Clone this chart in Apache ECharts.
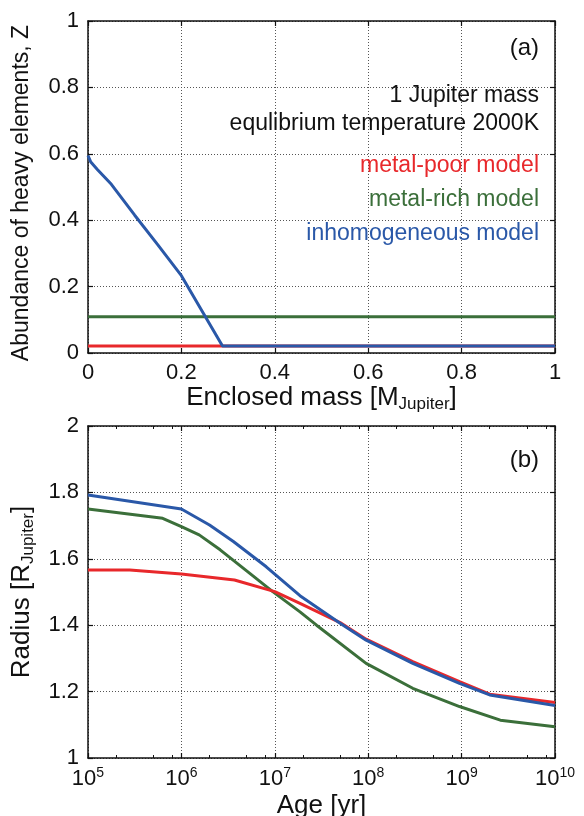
<!DOCTYPE html>
<html><head><meta charset="utf-8">
<script src="https://cdn.jsdelivr.net/npm/echarts@6/dist/echarts.min.js"></script>
<style>html,body{margin:0;padding:0;background:#fff}#c{width:584px;height:816px}</style>
</head><body><div id="c"></div>
<script>
// ---- Panel (a): heavy-element abundance vs enclosed mass ----
const massPoor = [0, 1];
const zPoor = [0.021, 0.021];
const massRich = [0, 1];
const zRich = [0.109, 0.109];
const massInhomo = [0, 0.006, 0.02, 0.05, 0.1, 0.15, 0.2, 0.288, 1];
const zInhomo = [0.595, 0.575, 0.553, 0.508, 0.415, 0.325, 0.233, 0.021, 0.021];
const massTicks = [0, 0.2, 0.4, 0.6, 0.8, 1];
const zTicks = [0, 0.2, 0.4, 0.6, 0.8, 1];

// ---- Panel (b): radius vs age ----
const agePoor = [1e5, 2.8e5, 1e6, 3.7e6, 1e7, 1.86e7, 5e7, 9.5e7, 3e8, 9.5e8, 2e9, 1e10];
const rPoor = [1.566, 1.566, 1.554, 1.536, 1.501, 1.466, 1.408, 1.358, 1.29, 1.23, 1.192, 1.167];
const ageRich = [1e5, 6.3e5, 1e6, 1.55e6, 2.6e6, 5.4e6, 9.5e6, 1.86e7, 2.8e7, 9.5e7, 3e8, 9.5e8, 2.6e9, 1e10];
const rRich = [1.75, 1.722, 1.697, 1.672, 1.627, 1.556, 1.501, 1.44, 1.40, 1.285, 1.21, 1.155, 1.114, 1.094];
const ageInhomo = [1e5, 1e6, 2e6, 3.6e6, 8.1e6, 1.86e7, 5e7, 9.5e7, 3e8, 9.5e8, 2e9, 1e10];
const rInhomo = [1.792, 1.75, 1.702, 1.652, 1.576, 1.489, 1.406, 1.355, 1.285, 1.225, 1.19, 1.158];
const ageMinorTicks = [2e5,5e5,8e5,2e6,5e6,8e6,2e7,5e7,8e7,2e8,5e8,8e8,2e9,5e9,8e9];
const radiusTicks = [1, 1.2, 1.4, 1.6, 1.8, 2];

const labelsA = [
  {text: '(a)', y: 48, color: '#111', size: 24},
  {text: '1 Jupiter mass', y: 95, color: '#111', size: 23},
  {text: 'equlibrium temperature 2000K', y: 123, color: '#111', size: 23},
  {text: 'metal-poor model', y: 165, color: '#e8282b', size: 23},
  {text: 'metal-rich model', y: 199, color: '#3b6f3a', size: 23},
  {text: 'inhomogeneous model', y: 233, color: '#2a58a8', size: 23},
  {text: '(b)', y: 460, color: '#111', size: 24}
];

const FONT = '"Liberation Sans", Arial, Helvetica, sans-serif';
const RED = '#e8282b', GREEN = '#3b6f3a', BLUE = '#2a58a8';
const zip = (xs, ys) => xs.map((x, i) => [x, ys[i]]);

const lineStyleAxis = {color: '#111', width: 1.5};
const split = {show: true, lineStyle: {color: '#555', type: [1, 2], width: 1}};
const tickLabel = {color: '#111', fontSize: 22, fontFamily: FONT};

function valueAxis(grid, pos, min, max, step, main, extra) {
  return Object.assign({
    type: 'value', gridIndex: grid, position: pos, min: min, max: max, interval: step,
    axisLine: {show: true, onZero: false, lineStyle: lineStyleAxis},
    axisTick: {show: true, inside: true, length: 5, lineStyle: {color: '#111', width: 1.2}},
    axisLabel: main ? Object.assign({margin: 9}, tickLabel) : {show: false},
    splitLine: main ? split : {show: false}
  }, extra || {});
}

const subRich = {
  a: {fontSize: 26, fontFamily: FONT, color: '#111', lineHeight: 30},
  s: {fontSize: 17, fontFamily: FONT, color: '#111', lineHeight: 10, verticalAlign: 'bottom'}
};

const chart = echarts.init(document.getElementById('c'), null, {renderer: 'canvas'});
chart.setOption({
  animation: false,
  backgroundColor: '#fff',
  grid: [
    {left: 88, right: 29, top: 21, height: 332, outerBoundsMode: 'none'},
    {left: 88, right: 29, top: 426, height: 332, outerBoundsMode: 'none'}
  ],
  xAxis: [
    valueAxis(0, 'bottom', massTicks[0], massTicks[massTicks.length - 1], 0.2, true, {
      name: '{a|Enclosed mass [M}{s|Jupiter}{a|]}', nameLocation: 'middle', nameGap: 30,
      nameTextStyle: {rich: subRich}
    }),
    valueAxis(0, 'top', 0, 1, 0.2, false),
    {
      type: 'log', gridIndex: 1, position: 'bottom', min: 1e5, max: 1e10, logBase: 10,
      axisLine: {show: true, onZero: false, lineStyle: lineStyleAxis},
      axisTick: {show: true, inside: true, length: 5, lineStyle: {color: '#111', width: 1.2}},
      axisLabel: {
        margin: 8,
        formatter: v => '{b|10}{p|' + Math.round(Math.log10(v)) + '}',
        rich: {
          b: {fontSize: 22, fontFamily: FONT, color: '#111', lineHeight: 26},
          p: {fontSize: 14, fontFamily: FONT, color: '#111', lineHeight: 14, verticalAlign: 'top'}
        }
      },
      splitLine: split,
      name: 'Age [yr]', nameLocation: 'middle', nameGap: 30,
      nameTextStyle: {fontSize: 26, fontFamily: FONT, color: '#111', lineHeight: 30, verticalAlign: 'top'}
    },
    {
      type: 'log', gridIndex: 1, position: 'top', min: 1e5, max: 1e10, logBase: 10,
      axisLine: {show: true, onZero: false, lineStyle: lineStyleAxis},
      axisTick: {show: true, inside: true, length: 5, lineStyle: {color: '#111', width: 1.2}},
      axisLabel: {show: false}, splitLine: {show: false}
    },
    {
      type: 'log', gridIndex: 1, position: 'bottom', min: 1e5, max: 1e10, logBase: 10,
      axisLine: {show: false},
      axisTick: {show: true, inside: true, length: 3, customValues: ageMinorTicks, lineStyle: {color: '#111', width: 1}},
      axisLabel: {show: false}, splitLine: {show: false}
    },
    {
      type: 'log', gridIndex: 1, position: 'top', min: 1e5, max: 1e10, logBase: 10,
      axisLine: {show: false},
      axisTick: {show: true, inside: true, length: 3, customValues: ageMinorTicks, lineStyle: {color: '#111', width: 1}},
      axisLabel: {show: false}, splitLine: {show: false}
    }
  ],
  yAxis: [
    valueAxis(0, 'left', zTicks[0], zTicks[zTicks.length - 1], 0.2, true, {
      name: 'Abundance of heavy elements, Z', nameLocation: 'middle', nameGap: 55,
      nameTextStyle: {fontSize: 23, fontFamily: FONT, color: '#111', padding: [0, 12, 0, 0]}
    }),
    valueAxis(0, 'right', 0, 1, 0.2, false),
    valueAxis(1, 'left', radiusTicks[0], radiusTicks[radiusTicks.length - 1], 0.2, true, {
      name: '{a|Radius [R}{s|Jupiter}{a|]}', nameLocation: 'middle', nameGap: 51,
      nameTextStyle: {rich: subRich}
    }),
    valueAxis(1, 'right', 1, 2, 0.2, false)
  ],
  graphic: labelsA.map(t => ({
    type: 'text', right: 584 - 539, top: t.y - t.size * 0.6 + 3, z: 10,
    style: {text: t.text, fill: t.color, fontSize: t.size, fontFamily: FONT}
  })),
  series: [
    {type: 'line', xAxisIndex: 0, yAxisIndex: 0, data: zip(massPoor, zPoor), showSymbol: false, lineStyle: {color: RED, width: 3}, z: 2},
    {type: 'line', xAxisIndex: 0, yAxisIndex: 0, data: zip(massRich, zRich), showSymbol: false, lineStyle: {color: GREEN, width: 3}, z: 3},
    {type: 'line', xAxisIndex: 0, yAxisIndex: 0, data: zip(massInhomo, zInhomo), showSymbol: false, lineStyle: {color: BLUE, width: 3}, z: 4},
    {type: 'line', xAxisIndex: 2, yAxisIndex: 2, data: zip(ageRich, rRich), showSymbol: false, lineStyle: {color: GREEN, width: 3}, z: 2},
    {type: 'line', xAxisIndex: 2, yAxisIndex: 2, data: zip(agePoor, rPoor), showSymbol: false, lineStyle: {color: RED, width: 3}, z: 3},
    {type: 'line', xAxisIndex: 2, yAxisIndex: 2, data: zip(ageInhomo, rInhomo), showSymbol: false, lineStyle: {color: BLUE, width: 3}, z: 4}
  ]
});
</script>
</body></html>
